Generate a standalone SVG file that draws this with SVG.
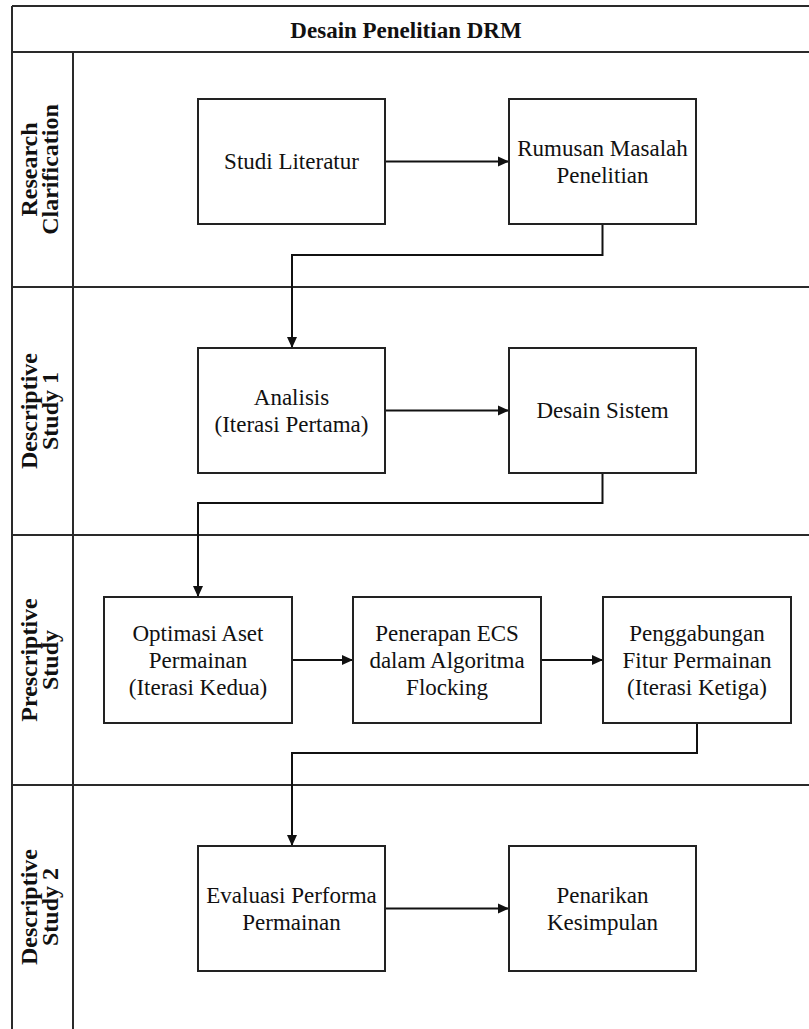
<svg xmlns="http://www.w3.org/2000/svg" width="809" height="1029" viewBox="0 0 809 1029">
<style>
.frame{stroke:#2a2a2a;stroke-width:2;fill:none}
.box{fill:#fff;stroke:#222;stroke-width:2}
text{font-family:'Liberation Serif','DejaVu Serif','Times New Roman',serif;fill:#111;text-anchor:middle}
.t{font-size:23px}
.lane{font-size:24px;font-weight:bold}
.title{font-size:23px;font-weight:bold}
.c{stroke:#111;stroke-width:2;fill:none;marker-end:url(#ah)}
</style>
<defs>
<marker id="ah" markerWidth="12" markerHeight="12" refX="11" refY="5.5" orient="auto" markerUnits="userSpaceOnUse">
<path d="M0,0.5 L11,5.5 L0,10.5 Z" fill="#111"/>
</marker>
</defs>
<rect width="809" height="1029" fill="#fff"/>
<g id="frame">
<path class="frame" d="M12,6 H809 M12,52 H809 M12,6 V1029 M73,52 V1029 M12,287 H809 M12,535 H809 M12,785 H809"/>
<text class="title" x="406" y="38">Desain Penelitian DRM</text>
</g>
<g id="lane-research-clarification">
<text class="lane" transform="translate(42.5,169.5) rotate(-90)"><tspan x="0" y="-5.5">Research</tspan><tspan x="0" y="15.5">Clarification</tspan></text>
</g>
<g id="lane-descriptive-study-1">
<text class="lane" transform="translate(42.5,411) rotate(-90)"><tspan x="0" y="-5.5">Descriptive</tspan><tspan x="0" y="15.5">Study 1</tspan></text>
</g>
<g id="lane-prescriptive-study">
<text class="lane" transform="translate(42.5,660) rotate(-90)"><tspan x="0" y="-5.5">Prescriptive</tspan><tspan x="0" y="15.5">Study</tspan></text>
</g>
<g id="lane-descriptive-study-2">
<text class="lane" transform="translate(42.5,907) rotate(-90)"><tspan x="0" y="-5.5">Descriptive</tspan><tspan x="0" y="15.5">Study 2</tspan></text>
</g>
<g id="connectors">
<path class="c" d="M385,161.5 H509"/>
<path class="c" d="M602.5,224 V255 H292 V348"/>
<path class="c" d="M385,410.5 H509"/>
<path class="c" d="M602.5,473 V503 H198 V597"/>
<path class="c" d="M292,660 H353"/>
<path class="c" d="M541,660 H603"/>
<path class="c" d="M697,723 V753 H292 V846"/>
<path class="c" d="M385,908.5 H509"/>
</g>
<g id="studi-literatur">
<rect class="box" x="198" y="99" width="187" height="125"/>
<text class="t" x="291.5" y="169">Studi Literatur</text>
</g>
<g id="rumusan-masalah">
<rect class="box" x="509" y="99" width="187" height="125"/>
<text class="t" x="602.5" y="155.5">Rumusan Masalah</text>
<text class="t" x="602.5" y="182.5">Penelitian</text>
</g>
<g id="analisis">
<rect class="box" x="198" y="348" width="187" height="125"/>
<text class="t" x="291.5" y="404.5">Analisis</text>
<text class="t" x="291.5" y="431.5">(Iterasi Pertama)</text>
</g>
<g id="desain-sistem">
<rect class="box" x="509" y="348" width="187" height="125"/>
<text class="t" x="602.5" y="418">Desain Sistem</text>
</g>
<g id="optimasi-aset">
<rect class="box" x="104" y="597" width="188" height="126"/>
<text class="t" x="198" y="640.5">Optimasi Aset</text>
<text class="t" x="198" y="667.5">Permainan</text>
<text class="t" x="198" y="694.5">(Iterasi Kedua)</text>
</g>
<g id="penerapan-ecs">
<rect class="box" x="353" y="597" width="188" height="126"/>
<text class="t" x="447" y="640.5">Penerapan ECS</text>
<text class="t" x="447" y="667.5">dalam Algoritma</text>
<text class="t" x="447" y="694.5">Flocking</text>
</g>
<g id="penggabungan-fitur">
<rect class="box" x="603" y="597" width="188" height="126"/>
<text class="t" x="697" y="640.5">Penggabungan</text>
<text class="t" x="697" y="667.5">Fitur Permainan</text>
<text class="t" x="697" y="694.5">(Iterasi Ketiga)</text>
</g>
<g id="evaluasi-performa">
<rect class="box" x="198" y="846" width="187" height="125"/>
<text class="t" x="291.5" y="902.5">Evaluasi Performa</text>
<text class="t" x="291.5" y="929.5">Permainan</text>
</g>
<g id="penarikan-kesimpulan">
<rect class="box" x="509" y="846" width="187" height="125"/>
<text class="t" x="602.5" y="902.5">Penarikan</text>
<text class="t" x="602.5" y="929.5">Kesimpulan</text>
</g>
</svg>
